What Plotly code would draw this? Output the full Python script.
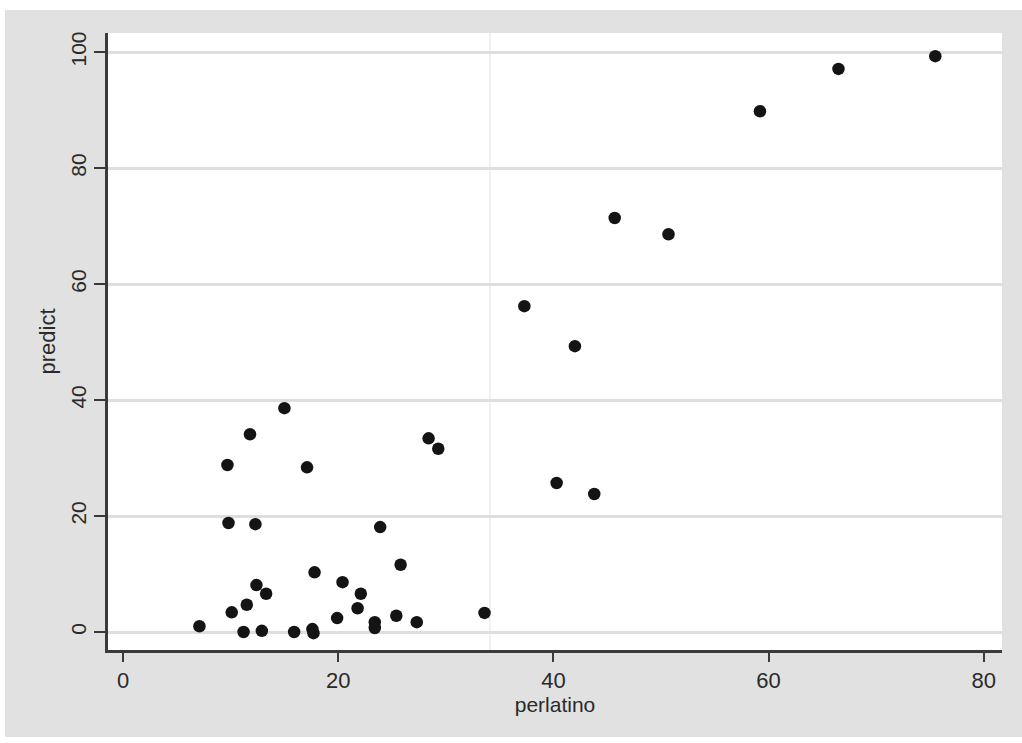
import plotly.graph_objects as go

perlatino = [75.5, 66.5, 59.2, 45.7, 50.7, 37.3, 42.0, 40.3, 43.8,
             15.0, 11.8, 28.4, 29.3, 9.7, 17.1, 9.8, 12.3, 23.9, 25.8,
             17.8, 20.4, 12.4, 13.3, 22.1, 11.5, 21.8, 10.1, 33.6, 7.1,
             19.9, 23.4, 23.4, 25.4, 27.3, 11.2, 12.9, 15.9, 17.6, 17.7]
predict = [99.3, 97.1, 89.8, 71.4, 68.6, 56.2, 49.3, 25.7, 23.8,
           38.6, 34.1, 33.4, 31.6, 28.8, 28.4, 18.8, 18.6, 18.1, 11.6,
           10.3, 8.6, 8.1, 6.6, 6.6, 4.7, 4.1, 3.4, 3.3, 1.0,
           2.4, 1.7, 0.7, 2.8, 1.7, 0.0, 0.2, 0.0, 0.5, -0.2]
x_ticks = [0, 20, 40, 60, 80]
y_ticks = [0, 20, 40, 60, 80, 100]
xline_value = 34.1

FONT = "Liberation Sans, Arial, sans-serif"
GRAY_BG = "#e1e1e1"
AX = "#3a3a3a"

fig = go.Figure()
fig.add_trace(go.Scatter(
    x=perlatino, y=predict, mode="markers",
    marker=dict(color="#141414", size=12.5, line=dict(width=0)),
    showlegend=False, hoverinfo="x+y"))

fig.add_shape(type="line", xref="x", yref="paper", x0=xline_value, x1=xline_value,
              y0=0, y1=1, line=dict(color="#ececec", width=1.5), layer="below")

# white outer strips (outside plot area)
W, H = 1022, 743
l, r, t, b = 108, 20, 33, 93
pw, ph = W - l - r, H - t - b
def px2paper_x(p):
    return (p - l) / pw
def px2paper_y(p):
    return (H - b - p) / ph
for (xa, xb, ya, yb) in [(0, W, 0, 10), (0, W, 737, H), (0, 5, 0, H)]:
    fig.add_shape(type="rect", xref="paper", yref="paper",
                  x0=px2paper_x(xa), x1=px2paper_x(xb),
                  y0=px2paper_y(yb), y1=px2paper_y(ya),
                  fillcolor="white", line=dict(width=0), layer="below")

fig.update_layout(
    width=W, height=H,
    margin=dict(l=l, r=r, t=t, b=b, pad=0),
    paper_bgcolor=GRAY_BG, plot_bgcolor="white",
    font=dict(family=FONT, color="#2a2a2a", size=22),
    xaxis=dict(range=[-1.4, 81.7], tickvals=x_ticks, showgrid=False, zeroline=False,
               showline=True, linecolor=AX, linewidth=2.5,
               ticks="outside", ticklen=9, tickwidth=2, tickcolor=AX,
               tickfont=dict(size=22),
               title=dict(text="perlatino", font=dict(size=21), standoff=0)),
    yaxis=dict(range=[-3.1, 103.3], tickvals=y_ticks, showgrid=True,
               gridcolor="#dedede", gridwidth=2.5, zeroline=False,
               showline=True, linecolor=AX, linewidth=2.5,
               ticks="outside", ticklen=11, tickwidth=2, tickcolor=AX,
               tickangle=-90, tickfont=dict(size=21),
               title=dict(text="predict", font=dict(size=22), standoff=6)),
)

fig.write_html("out.html")
